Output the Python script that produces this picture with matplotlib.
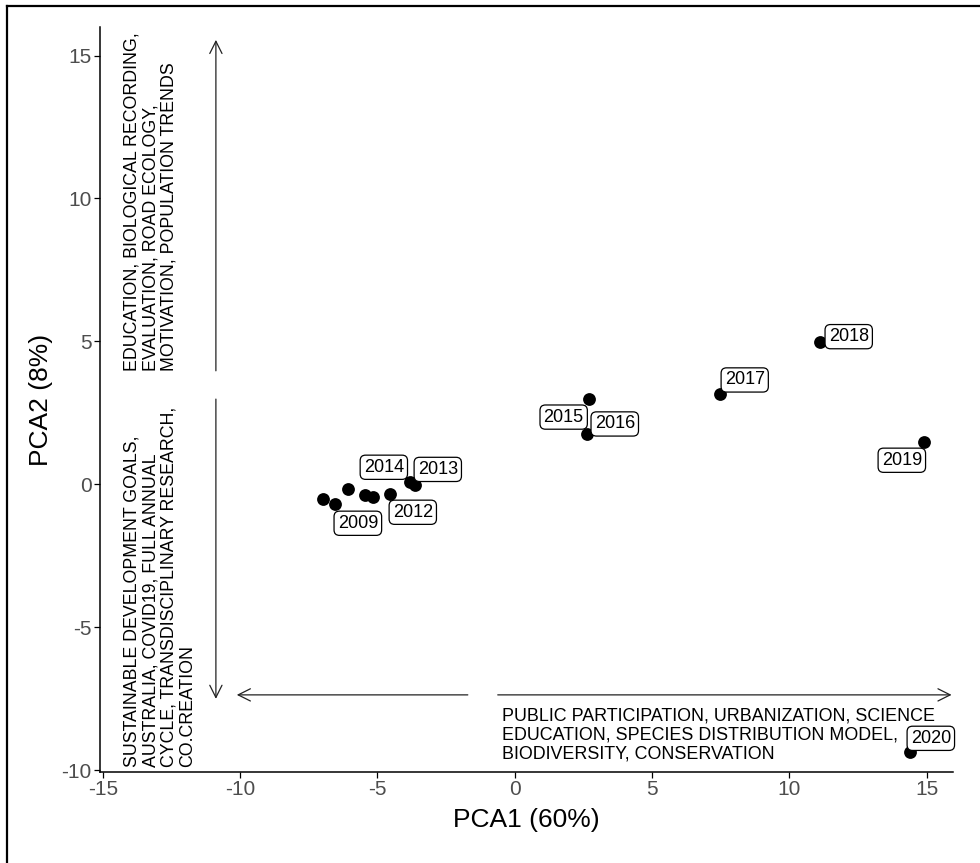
"""PCA biplot of keyword composition per year, with axis-loading annotations."""

import matplotlib

matplotlib.use("Agg")
import matplotlib.pyplot as plt
from matplotlib.lines import Line2D

plt.rcParams["font.family"] = ["Liberation Sans", "DejaVu Sans"]
plt.rcParams["axes.unicode_minus"] = False

# scores per year
years = [2007, 2008, 2009, 2010, 2011, 2012, 2013, 2014,
         2015, 2016, 2017, 2018, 2019, 2020]
pca1 = [-6.99, -6.08, -6.55, -5.46, -5.17, -4.55, -3.64, -3.82,
        2.69, 2.62, 7.46, 11.10, 14.89, 14.38]
pca2 = [-0.53, -0.18, -0.70, -0.39, -0.46, -0.35, -0.04, 0.07,
        2.98, 1.76, 3.16, 4.99, 1.47, -9.38]

# labels that survived repel, with their offsets (pixels)
label_offsets = {
    2009: (23, -19), 2012: (23, -18), 2013: (23, 16), 2014: (-26, 15),
    2015: (-25, -18), 2016: (28, 10), 2017: (25, 14), 2018: (29, 5),
    2019: (-22, -18), 2020: (21, 14),
}

top_words = "EDUCATION, BIOLOGICAL RECORDING,\nEVALUATION, ROAD ECOLOGY,\nMOTIVATION, POPULATION TRENDS"
bottom_words = ("SUSTAINABLE DEVELOPMENT GOALS,\nAUSTRALIA, COVID19, FULL ANNUAL\n"
                "CYCLE, TRANSDISCIPLINARY RESEARCH,\nCO.CREATION")
right_words = ("PUBLIC PARTICIPATION, URBANIZATION, SCIENCE\n"
               "EDUCATION, SPECIES DISTRIBUTION MODEL,\nBIODIVERSITY, CONSERVATION")

fig = plt.figure(figsize=(9.8, 8.63), dpi=100)
ax = fig.add_axes([0.1020, 0.1054, 0.8704, 0.8633])

ax.scatter(pca1, pca2, s=85, color="black", zorder=3, linewidths=0)

for yr, x, y in zip(years, pca1, pca2):
    if yr not in label_offsets:
        continue
    dx, dy = label_offsets[yr]
    ax.annotate(str(yr), xy=(x, y), xytext=(dx, dy), textcoords="offset pixels",
                ha="center", va="center", fontsize=13, zorder=4,
                bbox=dict(boxstyle="round,pad=0.2,rounding_size=0.3",
                          fc="white", ec="black", lw=0.9))

# loading arrows
arrow = dict(arrowstyle="->", lw=0.9, color="#222222", mutation_scale=22,
             shrinkA=0, shrinkB=0)
ax.annotate("", xy=(-10.88, 15.55), xytext=(-10.88, 3.97), arrowprops=arrow)
ax.annotate("", xy=(-10.88, -7.51), xytext=(-10.88, 2.98), arrowprops=arrow)
ax.annotate("", xy=(-10.12, -7.37), xytext=(-1.71, -7.37), arrowprops=arrow)
ax.annotate("", xy=(15.9, -7.37), xytext=(-0.62, -7.37), arrowprops=arrow)

ax.text(-14.23, 3.97, top_words, rotation=90, ha="left", va="bottom",
        multialignment="left", fontsize=12.8, linespacing=1.12)
ax.text(-14.23, -9.9, bottom_words, rotation=90, ha="left", va="bottom",
        multialignment="left", fontsize=12.8, linespacing=1.12)
ax.text(-0.47, -9.72, right_words, ha="left", va="bottom",
        fontsize=12.9, linespacing=1.12)

ax.set_xlim(-15.1, 15.95)
ax.set_ylim(-10.07, 16.0)
ax.set_xticks([-15, -10, -5, 0, 5, 10, 15])
ax.set_yticks([-10, -5, 0, 5, 10, 15])
ax.set_xlabel("PCA1 (60%)", fontsize=19, labelpad=6)
ax.set_ylabel("PCA2 (8%)", fontsize=19, labelpad=6)
ax.tick_params(labelsize=15, labelcolor="#4D4D4D", length=4, width=0.9, pad=2)
for side in ("top", "right"):
    ax.spines[side].set_visible(False)
for side in ("left", "bottom"):
    ax.spines[side].set_linewidth(1.1)

# screenshot frame on the left and top edge
fig.add_artist(Line2D([7 / 980, 7 / 980], [0, 1 - 6 / 863], transform=fig.transFigure,
                      color="black", lw=1.6))
fig.add_artist(Line2D([7 / 980, 1], [1 - 6 / 863, 1 - 6 / 863], transform=fig.transFigure,
                      color="black", lw=1.6))

fig.savefig("out.png", dpi=100)
plt.close(fig)
